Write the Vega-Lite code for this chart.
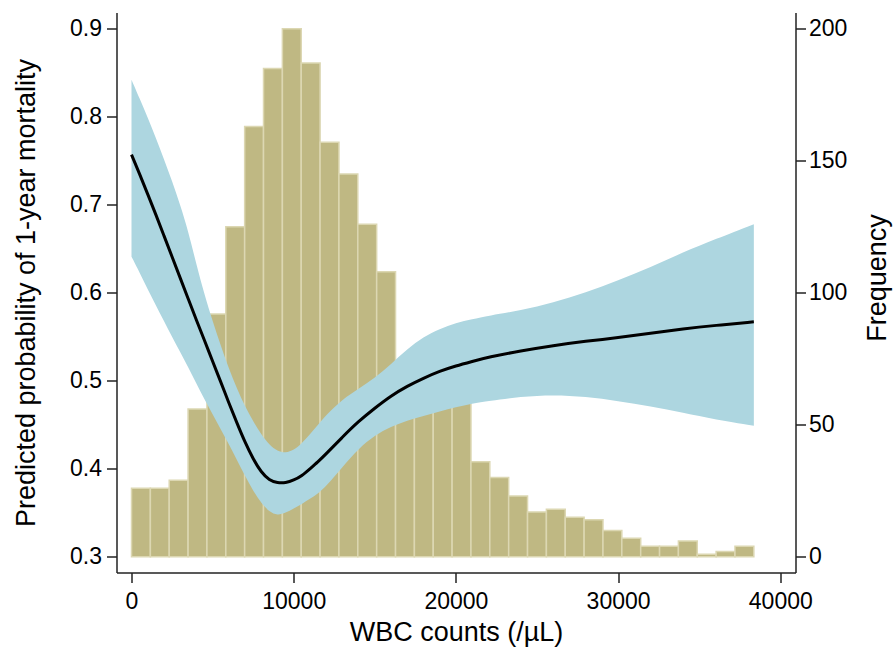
{
  "$schema": "https://vega.github.io/schema/vega-lite/v6.json",
  "width": 679,
  "height": 560,
  "autosize": {"type": "none"},
  "padding": {"left": 116.5, "top": 12.5, "right": 98.5, "bottom": 75.5},
  "background": "white",
  "config": {
    "view": {"stroke": null},
    "font": "Liberation Sans",
    "axis": {
      "grid": false,
      "domainColor": "#222222",
      "tickColor": "#222222",
      "domainWidth": 1.5,
      "tickWidth": 1.5,
      "tickSize": 10,
      "labelFont": "Liberation Sans",
      "labelFontSize": 23,
      "labelColor": "#000000",
      "titleFont": "Liberation Sans",
      "titleFontSize": 27,
      "titleFontWeight": "normal",
      "titleColor": "#000000"
    }
  },
  "datasets": {
    "hist": [
      {"bin_start": 0, "bin_end": 1163, "freq": 26},
      {"bin_start": 1163, "bin_end": 2325, "freq": 26},
      {"bin_start": 2325, "bin_end": 3488, "freq": 29},
      {"bin_start": 3488, "bin_end": 4651, "freq": 56},
      {"bin_start": 4651, "bin_end": 5814, "freq": 92},
      {"bin_start": 5814, "bin_end": 6976, "freq": 125},
      {"bin_start": 6976, "bin_end": 8139, "freq": 163},
      {"bin_start": 8139, "bin_end": 9302, "freq": 185},
      {"bin_start": 9302, "bin_end": 10464, "freq": 200},
      {"bin_start": 10464, "bin_end": 11627, "freq": 187},
      {"bin_start": 11627, "bin_end": 12790, "freq": 157},
      {"bin_start": 12790, "bin_end": 13952, "freq": 145},
      {"bin_start": 13952, "bin_end": 15115, "freq": 126},
      {"bin_start": 15115, "bin_end": 16278, "freq": 108},
      {"bin_start": 16278, "bin_end": 17441, "freq": 72},
      {"bin_start": 17441, "bin_end": 18603, "freq": 68},
      {"bin_start": 18603, "bin_end": 19766, "freq": 64},
      {"bin_start": 19766, "bin_end": 20929, "freq": 59},
      {"bin_start": 20929, "bin_end": 22091, "freq": 36},
      {"bin_start": 22091, "bin_end": 23254, "freq": 30},
      {"bin_start": 23254, "bin_end": 24417, "freq": 23},
      {"bin_start": 24417, "bin_end": 25579, "freq": 17},
      {"bin_start": 25579, "bin_end": 26742, "freq": 18},
      {"bin_start": 26742, "bin_end": 27905, "freq": 15},
      {"bin_start": 27905, "bin_end": 29068, "freq": 14},
      {"bin_start": 29068, "bin_end": 30230, "freq": 10},
      {"bin_start": 30230, "bin_end": 31393, "freq": 7},
      {"bin_start": 31393, "bin_end": 32556, "freq": 4},
      {"bin_start": 32556, "bin_end": 33718, "freq": 4},
      {"bin_start": 33718, "bin_end": 34881, "freq": 6},
      {"bin_start": 34881, "bin_end": 36044, "freq": 1},
      {"bin_start": 36044, "bin_end": 37206, "freq": 2},
      {"bin_start": 37206, "bin_end": 38369, "freq": 4}
    ],
    "fit": [
      {"x": 0, "fit": 0.757, "lo": 0.641, "hi": 0.842},
      {"x": 500, "fit": 0.735, "lo": 0.623, "hi": 0.821},
      {"x": 1000, "fit": 0.712, "lo": 0.604, "hi": 0.799},
      {"x": 1500, "fit": 0.689, "lo": 0.586, "hi": 0.776},
      {"x": 2000, "fit": 0.665, "lo": 0.568, "hi": 0.752},
      {"x": 2500, "fit": 0.641, "lo": 0.550, "hi": 0.727},
      {"x": 3000, "fit": 0.617, "lo": 0.533, "hi": 0.700},
      {"x": 3500, "fit": 0.593, "lo": 0.515, "hi": 0.670},
      {"x": 4000, "fit": 0.569, "lo": 0.497, "hi": 0.632},
      {"x": 4500, "fit": 0.546, "lo": 0.479, "hi": 0.598},
      {"x": 5000, "fit": 0.522, "lo": 0.462, "hi": 0.568},
      {"x": 5500, "fit": 0.499, "lo": 0.445, "hi": 0.540},
      {"x": 6000, "fit": 0.475, "lo": 0.428, "hi": 0.514},
      {"x": 6500, "fit": 0.452, "lo": 0.410, "hi": 0.491},
      {"x": 7000, "fit": 0.430, "lo": 0.392, "hi": 0.471},
      {"x": 7500, "fit": 0.411, "lo": 0.375, "hi": 0.454},
      {"x": 8000, "fit": 0.396, "lo": 0.361, "hi": 0.439},
      {"x": 8500, "fit": 0.387, "lo": 0.351, "hi": 0.427},
      {"x": 9000, "fit": 0.384, "lo": 0.347, "hi": 0.420},
      {"x": 9500, "fit": 0.384, "lo": 0.350, "hi": 0.418},
      {"x": 10000, "fit": 0.387, "lo": 0.355, "hi": 0.421},
      {"x": 10500, "fit": 0.392, "lo": 0.360, "hi": 0.429},
      {"x": 11000, "fit": 0.400, "lo": 0.366, "hi": 0.439},
      {"x": 11500, "fit": 0.408, "lo": 0.372, "hi": 0.450},
      {"x": 12000, "fit": 0.417, "lo": 0.380, "hi": 0.461},
      {"x": 13000, "fit": 0.436, "lo": 0.402, "hi": 0.479},
      {"x": 14000, "fit": 0.454, "lo": 0.423, "hi": 0.491},
      {"x": 15000, "fit": 0.469, "lo": 0.438, "hi": 0.503},
      {"x": 16000, "fit": 0.483, "lo": 0.448, "hi": 0.519},
      {"x": 17000, "fit": 0.494, "lo": 0.455, "hi": 0.536},
      {"x": 18000, "fit": 0.503, "lo": 0.460, "hi": 0.550},
      {"x": 19000, "fit": 0.511, "lo": 0.465, "hi": 0.559},
      {"x": 20000, "fit": 0.517, "lo": 0.470, "hi": 0.566},
      {"x": 21000, "fit": 0.522, "lo": 0.474, "hi": 0.570},
      {"x": 22000, "fit": 0.527, "lo": 0.477, "hi": 0.574},
      {"x": 24000, "fit": 0.534, "lo": 0.482, "hi": 0.580},
      {"x": 26000, "fit": 0.540, "lo": 0.484, "hi": 0.589},
      {"x": 28000, "fit": 0.545, "lo": 0.482, "hi": 0.600},
      {"x": 30000, "fit": 0.549, "lo": 0.477, "hi": 0.614},
      {"x": 32000, "fit": 0.554, "lo": 0.471, "hi": 0.629},
      {"x": 34000, "fit": 0.559, "lo": 0.464, "hi": 0.646},
      {"x": 36000, "fit": 0.563, "lo": 0.456, "hi": 0.661},
      {"x": 38369, "fit": 0.567, "lo": 0.449, "hi": 0.678}
    ]
  },
  "layer": [
    {
      "data": {"name": "hist"},
      "mark": {"type": "bar", "fill": "#bfb883", "stroke": "#dcd7b2", "strokeWidth": 1.5},
      "encoding": {
        "x": {
          "field": "bin_start", "type": "quantitative",
          "scale": {"domain": [-925, 40937], "nice": false, "zero": false},
          "axis": {"values": [0, 10000, 20000, 30000, 40000], "format": "d", "title": "WBC counts (/µL)", "labelPadding": 8, "labelFlush": false, "titleBaseline": "alphabetic", "titleY": 67.5}
        },
        "x2": {"field": "bin_end"},
        "y": {
          "field": "freq", "type": "quantitative",
          "scale": {"domain": [-5.95, 206.17], "nice": false, "zero": false},
          "axis": {"orient": "right", "values": [0, 50, 100, 150, 200], "format": "d", "title": "Frequency", "labelPadding": 3, "titleAngle": 270, "titleBaseline": "alphabetic", "titleAlign": "center", "titleX": 90, "titleY": 265}
        },
        "y2": {"datum": 0}
      }
    },
    {
      "data": {"name": "fit"},
      "layer": [
        {
          "mark": {"type": "area", "color": "#add6e0", "opacity": 1, "interpolate": "basis"},
          "encoding": {
            "x": {"field": "x", "type": "quantitative", "scale": {"domain": [-925, 40937], "nice": false, "zero": false}, "title": "WBC counts (/µL)"},
            "y": {
              "field": "lo", "type": "quantitative",
              "scale": {"domain": [0.2822, 0.9185], "nice": false, "zero": false},
              "axis": {"orient": "left", "values": [0.3, 0.4, 0.5, 0.6, 0.7, 0.8, 0.9], "format": ".1f", "title": "Predicted probability of 1-year mortality", "labelPadding": 5, "titleAngle": 270, "titleBaseline": "alphabetic", "titleAlign": "center", "titleX": -82, "titleY": 280}
            },
            "y2": {"field": "hi"}
          }
        },
        {
          "mark": {"type": "line", "color": "#000000", "strokeWidth": 3, "interpolate": "basis"},
          "encoding": {
            "x": {"field": "x", "type": "quantitative", "scale": {"domain": [-925, 40937], "nice": false, "zero": false}, "title": "WBC counts (/µL)"},
            "y": {"field": "fit", "type": "quantitative", "scale": {"domain": [0.2822, 0.9185], "nice": false, "zero": false}, "title": "Predicted probability of 1-year mortality"}
          }
        }
      ]
    }
  ],
  "resolve": {"scale": {"y": "independent"}, "axis": {"y": "independent"}}
}
